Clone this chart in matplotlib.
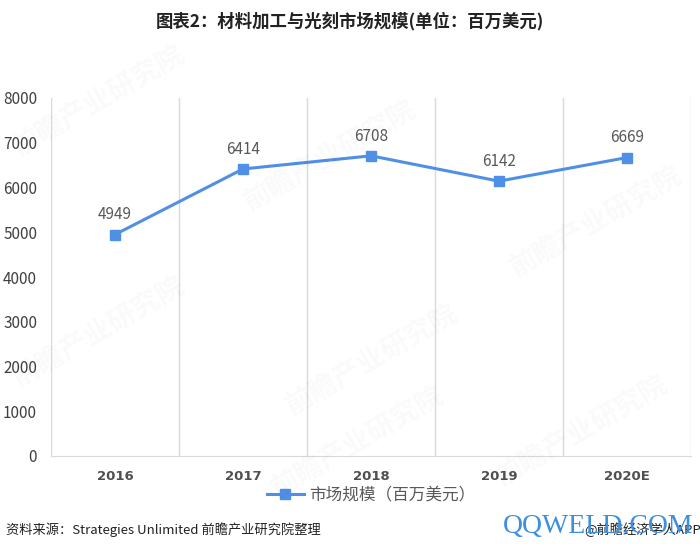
import matplotlib.pyplot as plt

plt.rcParams['font.family'] = ['Noto Sans CJK SC', 'DejaVu Sans']

years = ['2016', '2017', '2018', '2019', '2020E']
market = [4949, 6414, 6708, 6142, 6669]
yticks = [0, 1000, 2000, 3000, 4000, 5000, 6000, 7000, 8000]

blue = '#4f8fe6'
grey = '#595959'

fig = plt.figure(figsize=(7, 5.51), dpi=100)
ax = fig.add_axes([51/700, 95/551, 640/700, 358/551])

x = list(range(len(years)))
ax.plot(x, market, color=blue, lw=2.2, marker='s', ms=7, label='市场规模（百万美元）')
for xi, v in zip(x, market):
    ax.annotate(str(v), (xi, v), xytext=(0, 8), textcoords='offset points',
                ha='center', va='bottom', fontsize=11, color=grey)

ax.set_xlim(-0.5, len(years) - 0.5)
ax.set_ylim(0, 8000)
ax.set_yticks(yticks)
ax.set_yticklabels([str(t) for t in yticks], fontsize=11, color='#404040')
ax.set_xticks(x)
ax.set_xticklabels(years, fontsize=9.5, color='#505050', weight='bold', family='DejaVu Sans')
ax.tick_params(length=0)
ax.tick_params(axis='x', pad=10)
ax.tick_params(axis='y', pad=10)
for b in range(len(years) + 1):
    ax.axvline(b - 0.5, color='#d9d9d9', lw=1, zorder=0)
for s in ['top', 'right', 'left']:
    ax.spines[s].set_visible(False)
ax.spines['bottom'].set_color('#d9d9d9')

ax.legend(loc='upper center', bbox_to_anchor=(0.5, -0.045), frameon=False,
          fontsize=12, labelcolor=grey, handlelength=2.2, handletextpad=0.3)

# faint watermarks
for wx, wy in [(0.01, 0.72), (0.34, 0.62), (0.72, 0.5), (0.01, 0.3), (0.4, 0.25), (0.7, 0.12), (0.38, 0.1)]:
    fig.text(wx, wy, '前瞻产业研究院', fontsize=20, color='#000000', alpha=0.025,
             rotation=30, weight='bold')

fig.text(0.5, 0.962, '图表2：材料加工与光刻市场规模(单位：百万美元)', ha='center', va='center',
         fontsize=12.5, weight='bold', color='#222222')
fig.text(0.008, 0.038, '资料来源：Strategies Unlimited 前瞻产业研究院整理', ha='left', va='center',
         fontsize=9.5, color='#222222')
fig.text(0.835, 0.038, '@前瞻经济学人APP', ha='left', va='center', fontsize=9.5, color='#222222')
fig.text(0.855, 0.045, 'QQWELD.COM', ha='center', va='center', fontsize=20,
         family='Liberation Serif', color='#3d8fe0')

fig.savefig('out.png', dpi=100)
